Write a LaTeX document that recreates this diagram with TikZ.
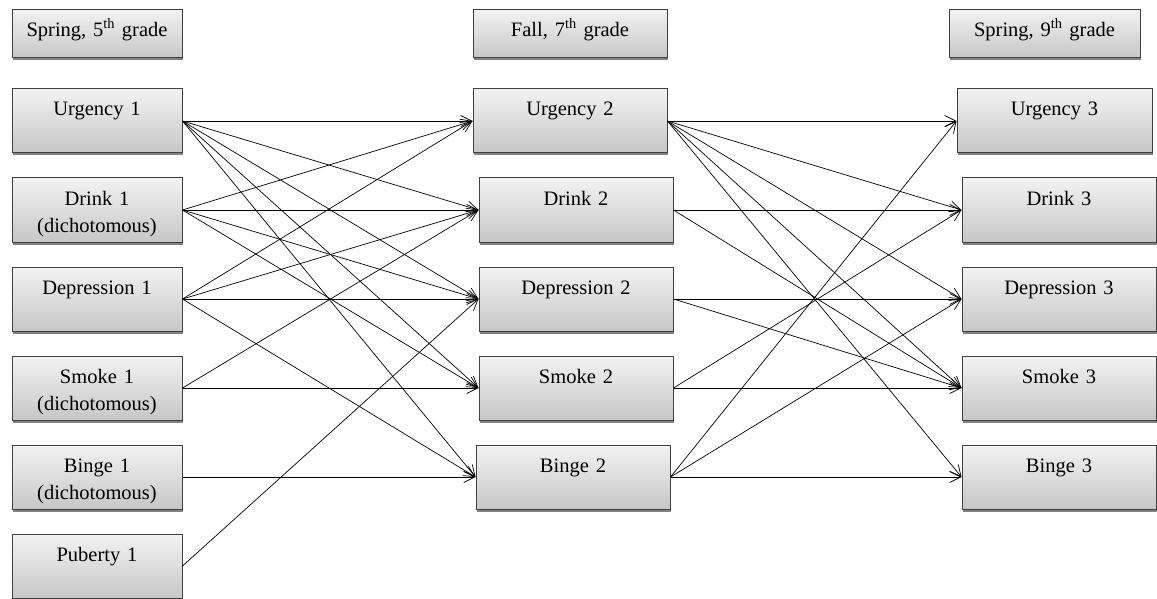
\documentclass[tikz,border=0pt]{standalone}
\usepackage{fontspec}
\setmainfont{Liberation Serif}
\usetikzlibrary{arrows.meta,shadows}
\tikzset{
  box/.style={draw=black!75, line width=1pt, top color=black!5, bottom color=black!22,
    drop shadow={shadow xshift=1pt, shadow yshift=-2.5pt, fill=black!70, opacity=.7},
    inner sep=0pt, align=center, text height=27pt, text depth=37pt,
    font=\fontsize{20.5}{27}\selectfont},
  head/.style={box, text depth=21pt},
  link/.style={line width=.7pt, -{Straight Barb[length=11pt,width=11pt]}}
}
\begin{document}
\begin{tikzpicture}[x=1pt,y=-1pt]
  \useasboundingbox (0,0) rectangle (1157,599);
  \node[head, text width=170pt] (hd1) at (97,33.5) {Spring, 5\textsuperscript{th} grade};
  \node[head, text width=194pt] (hd2) at (570,33.5) {Fall, 7\textsuperscript{th} grade};
  \node[head, text width=191pt] (hd3) at (1044.5,33.5) {Spring, 9\textsuperscript{th} grade};
  \node[box, text width=170pt] (urg1) at (97,121) {Urgency 1};
  \node[box, text width=170pt] (drk1) at (97,210) {Drink 1\\(dichotomous)};
  \node[box, text width=170pt] (dep1) at (97,299) {Depression 1};
  \node[box, text width=170pt] (smk1) at (97,388) {Smoke 1\\(dichotomous)};
  \node[box, text width=170pt] (bng1) at (97,477) {Binge 1\\(dichotomous)};
  \node[box, text width=170pt] (pub1) at (97,566) {Puberty 1};
  \node[box, text width=194pt] (urg2) at (570,121) {Urgency 2};
  \node[box, text width=194pt] (drk2) at (576,210) {Drink 2};
  \node[box, text width=194pt] (dep2) at (576,299) {Depression 2};
  \node[box, text width=194pt] (smk2) at (576,388) {Smoke 2};
  \node[box, text width=194pt] (bng2) at (573,477) {Binge 2};
  \node[box, text width=195pt] (urg3) at (1054.5,121) {Urgency 3};
  \node[box, text width=194pt] (drk3) at (1059,210) {Drink 3};
  \node[box, text width=194pt] (dep3) at (1059,299) {Depression 3};
  \node[box, text width=194pt] (smk3) at (1059,388) {Smoke 3};
  \node[box, text width=194pt] (bng3) at (1059,477) {Binge 3};
  \foreach \a/\b in {urg1/urg2, urg1/drk2, urg1/dep2, urg1/smk2, urg1/bng2,
      drk1/urg2, drk1/drk2, drk1/dep2, drk1/smk2,
      dep1/urg2, dep1/drk2, dep1/dep2, dep1/bng2,
      smk1/drk2, smk1/smk2, bng1/bng2, pub1/dep2,
      urg2/urg3, urg2/drk3, urg2/dep3, urg2/smk3, urg2/bng3,
      drk2/drk3, drk2/smk3, dep2/dep3, dep2/smk3,
      smk2/drk3, smk2/smk3, bng2/urg3, bng2/dep3, bng2/bng3}
    \draw[link] (\a.east) -- (\b.west);
\end{tikzpicture}
\end{document}
